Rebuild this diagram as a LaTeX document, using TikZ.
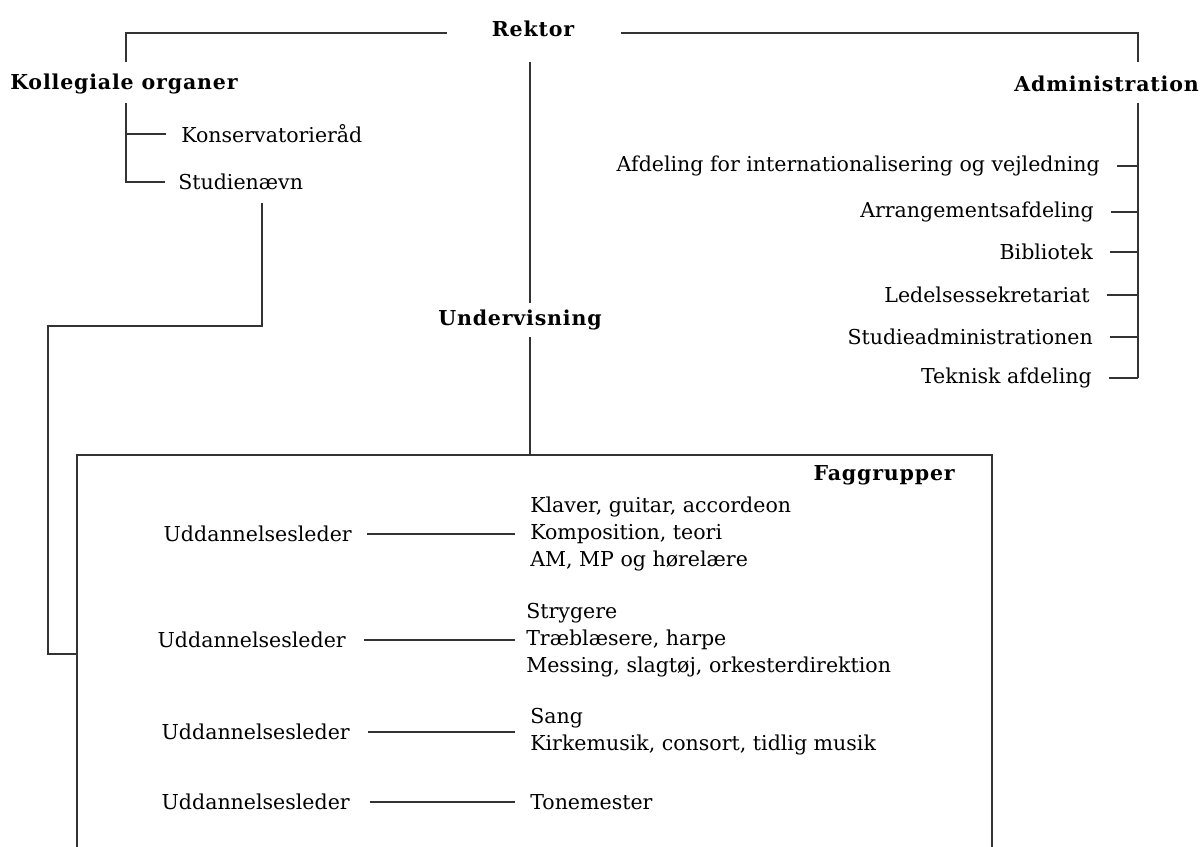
\documentclass[tikz,border=0pt]{standalone}
\usepackage{fontspec}
\setmainfont{DejaVu Serif}
\newfontfamily\headfont[LetterSpace=4.0]{DejaVu Serif}
\usetikzlibrary{positioning}
\definecolor{Ink}{HTML}{333333}

\begin{document}
\begin{tikzpicture}[
  x=0.025cm,y=-0.025cm,
  txt/.style={inner sep=0pt,font=\fontsize{14.6}{19.2}\selectfont},
  head/.style={inner sep=0pt,font=\headfont\bfseries\fontsize{14.6}{16}\selectfont},
  grp/.style={txt,anchor=west,align=left},
  conn/.style={draw=Ink,line width=0.8pt}
]
\useasboundingbox (0,0) rectangle (1200,846);

% top level
\node[head] (rektor) at (533,29) {Rektor};
\node[head,anchor=west] (koll) at (10,84) {Kollegiale organer};
\node[head,anchor=east] (admin) at (1199,84) {Administration};
\node[head] (under) at (520,320) {Undervisning};
\coordinate (kl) at (126,62);
\coordinate (ar) at (1138,62);
\coordinate (rk) at (530,62);
\draw[conn,shorten <=32pt] (rektor.mid west) -| (kl);
\draw[conn,shorten <=33pt] (rektor.mid east) -| (ar);

% kollegiale organer
\node[txt,anchor=west] (kons) at (181,134) {Konservatorieråd};
\node[txt,anchor=west] (stud) at (178,182) {Studienævn};
\coordinate (kt) at (126,103);
\draw[conn,shorten >=9pt] (kt) |- (stud.west);
\draw[conn,shorten >=11pt] (kt |- kons.west) -- (kons.west);

% administration
\node[txt,anchor=east] (afd1) at (1100,166) {Afdeling for internationalisering og vejledning};
\node[txt,anchor=east] (afd2) at (1094,212) {Arrangementsafdeling};
\node[txt,anchor=east] (afd3) at (1093,252) {Bibliotek};
\node[txt,anchor=east] (afd4) at (1090,295) {Ledelsessekretariat};
\node[txt,anchor=east] (afd5) at (1093,337) {Studieadministrationen};
\node[txt,anchor=east] (afd6) at (1092,378) {Teknisk afdeling};
\coordinate (aspine) at (1138,103);
\draw[conn] (aspine) -- (aspine |- afd6.east);
\foreach \n in {1,...,6}
  \draw[conn,shorten <=12pt] (afd\n.east) -- (afd\n.east -| aspine);

% undervisning
\coordinate (boxl) at (77,654);
\coordinate (boxtl) at (77,455);
\coordinate (boxtr) at (992,455);
\draw[conn,shorten >=5pt] (rk) -- (rk |- under.north);
\draw[conn,shorten <=5pt] (rk |- under.south) -- (rk |- boxtl);
\draw[conn] (77,850) -- (boxtl) -- (boxtr) -- (992,850);
\node[head,anchor=east] (fag) at (955,475) {Faggrupper};

% studienaevn to the box
\coordinate (sv) at (262,203);
\coordinate (sl) at (48,326);
\draw[conn] (sv) |- (sl) |- (boxl);

% faggrupper
\node[txt,anchor=east] (lead1) at (352,534) {Uddannelsesleder};
\node[grp] (grp1) at (530,534) {Klaver, guitar, accordeon\\Komposition, teori\\AM, MP og hørelære};
\node[txt,anchor=east] (lead2) at (346,640) {Uddannelsesleder};
\node[grp] (grp2) at (526,640) {Strygere\\Træblæsere, harpe\\Messing, slagtøj, orkesterdirektion};
\node[txt,anchor=east] (lead3) at (350,732) {Uddannelsesleder};
\node[grp] (grp3) at (530,732) {Sang\\Kirkemusik, consort, tidlig musik};
\node[txt,anchor=east] (lead4) at (350,802) {Uddannelsesleder};
\node[grp] (grp4) at (530,802) {Tonemester};
\draw[conn,shorten <=11pt,shorten >=11pt] (lead1.east) -- (grp1.west);
\draw[conn,shorten <=13pt,shorten >=8pt] (lead2.east) -- (grp2.west);
\draw[conn,shorten <=13pt,shorten >=11pt] (lead3.east) -- (grp3.west);
\draw[conn,shorten <=14pt,shorten >=11pt] (lead4.east) -- (grp4.west);
\end{tikzpicture}
\end{document}
